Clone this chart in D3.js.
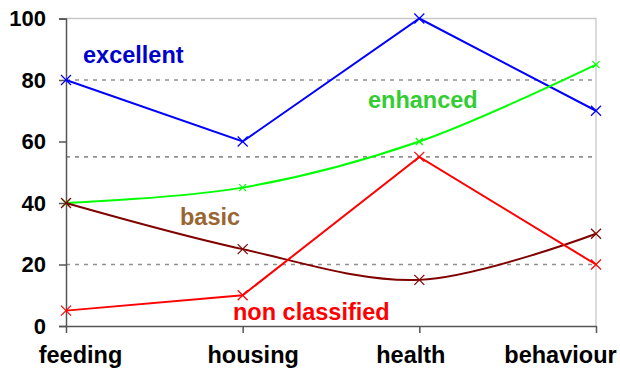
<!DOCTYPE html>
<html><head><meta charset="utf-8">
<script src="https://cdn.jsdelivr.net/npm/d3@7"></script>
<style>body{margin:0;background:#fff}svg text{font-family:"Liberation Sans",Arial,sans-serif;font-weight:bold}</style>
</head><body><svg id="c" width="620" height="371"></svg>
<script>
const categories=["feeding","housing","health","behaviour"];
const excellent=[80,60,100,70];
const enhanced=[40,45,60,85];
const basic=[40,25,15,30];
const nonClassified=[5,10,55,20];
const yTicks=[0,20,40,60,80,100];
const gridValues=[20,55,80];
const catLabelShift=[14,10,-9,-36];

const series=[
 {name:"excellent",values:excellent,color:"#0000ff",label:"#0000cc",smooth:false,ms:5,lx:83,ly:63},
 {name:"enhanced",values:enhanced,color:"#00ff00",label:"#33cc33",smooth:true,ms:3.5,lx:368,ly:108},
 {name:"basic",values:basic,color:"#800000",label:"#996633",smooth:true,ms:5,lx:180,ly:225},
 {name:"non classified",values:nonClassified,color:"#ff0000",label:"#ff0000",smooth:false,ms:5,lx:233,ly:320}
];
const svg=d3.select("#c");
const L=66,R=596,T=18.5,B=326;
const x=d3.scalePoint().domain(categories).range([L,R]);
const y=d3.scaleLinear().domain([0,100]).range([B,T]);

svg.append("path").attr("d",`M${L},${T}H${R}V${B}`).attr("fill","none").attr("stroke","#c8c8c8").attr("stroke-width",1.3);
svg.selectAll(".grid").data(gridValues).enter().append("line")
 .attr("x1",L).attr("x2",R).attr("y1",d=>y(d)).attr("y2",d=>y(d))
 .attr("stroke","#909090").attr("stroke-width",1.6).attr("stroke-dasharray","4,5");

const ya=svg.append("g").attr("transform",`translate(${L},0)`)
 .call(d3.axisLeft(y).tickValues(yTicks).tickSize(7).tickPadding(13));
ya.select(".domain").attr("stroke","#555").attr("stroke-width",1.5);
ya.selectAll(".tick line").attr("stroke","#555").attr("stroke-width",1.5);
ya.selectAll("text").attr("font-size",22).attr("fill","#000");

const xa=svg.append("g").attr("transform",`translate(0,${B})`)
 .call(d3.axisBottom(x).tickSize(7).tickSizeOuter(0));
xa.select(".domain").attr("stroke","#555").attr("stroke-width",1.5);
xa.selectAll(".tick line").attr("stroke","#555").attr("stroke-width",1.5);
xa.selectAll("text").attr("font-size",23.5).attr("fill","#000")
 .attr("y",37).attr("dy",0).attr("x",(d,i)=>catLabelShift[i]);

series.forEach(s=>{
 const line=d3.line().x((d,i)=>x(categories[i])).y(d=>y(d)).curve(s.smooth?d3.curveCatmullRom.alpha(0.5):d3.curveLinear);
 svg.append("path").datum(s.values).attr("d",line).attr("fill","none").attr("stroke",s.color).attr("stroke-width",2);
 const g=svg.append("g");
 s.values.forEach((v,i)=>{
  const cx=x(categories[i]),cy=y(v),m=s.ms;
  g.append("path").attr("d",`M${cx-m},${cy-m}L${cx+m},${cy+m}M${cx-m},${cy+m}L${cx+m},${cy-m}`)
   .attr("stroke",s.color).attr("stroke-width",1.2);
 });
 svg.append("text").attr("x",s.lx).attr("y",s.ly).attr("fill",s.label).attr("font-size",23.5).text(s.name);
});
</script></body></html>
